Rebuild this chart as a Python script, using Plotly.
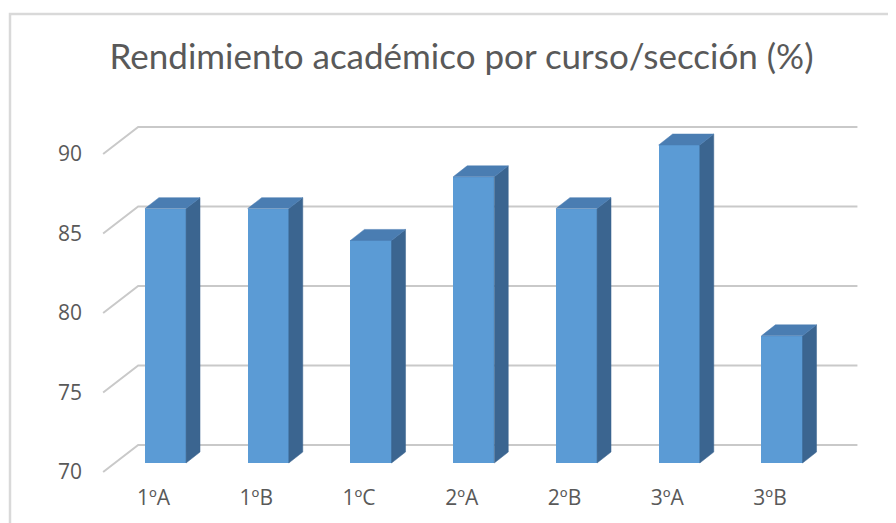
import plotly.graph_objects as go

categories = ["1ºA", "1ºB", "1ºC", "2ºA", "2ºB", "3ºA", "3ºB"]
values = [86, 86, 84, 88, 86, 90, 78]
y_ticks = [70, 75, 80, 85, 90]
title_text = "Rendimiento académico por curso/sección (%)"

# pseudo-3D geometry (in data units)
base = 70
bar_w = 0.4
ddx, ddy = 0.136, 0.69          # bar depth
dxf, dyf = -0.107, -0.57        # front wall plane offset
dxb, dyb = 0.234, 1.13          # back wall plane offset
wall_l, wall_r = -0.5, len(categories) - 0.5

FRONT = "#5B9BD5"
TOP = "#4A7DB2"
SIDE = "#3B6590"
GRID = "#C9C9C9"
TXT = "#595959"
FONT = "Lato"
TICKFONT = "Open Sans"

# page has an 8px body margin; work in page pixels and subtract it
O = 8
W, H = 896 - O, 523 - O

fig = go.Figure()

# back wall gridlines + left wall diagonals (drawn beneath the bars)
shapes = []
for v in y_ticks:
    shapes.append(dict(type="path", xref="x", yref="y", layer="below",
                       path=f"M {wall_l + dxf} {v + dyf} L {wall_l + dxb} {v + dyb} L {wall_r + dxb} {v + dyb}",
                       line=dict(color=GRID, width=2)))

# side faces and top faces
for i, v in enumerate(values):
    xr = i + bar_w / 2
    xl = i - bar_w / 2
    fig.add_trace(go.Scatter(
        x=[xr, xr + ddx, xr + ddx, xr, xr],
        y=[base, base + ddy, v + ddy, v, base],
        fill="toself", fillcolor=SIDE, mode="lines", line=dict(color=SIDE, width=0.5),
        hoverinfo="skip", showlegend=False))
    fig.add_trace(go.Scatter(
        x=[xl, xr, xr + ddx, xl + ddx, xl],
        y=[v, v, v + ddy, v + ddy, v],
        fill="toself", fillcolor=TOP, mode="lines", line=dict(color=TOP, width=0.5),
        hoverinfo="skip", showlegend=False))

# front faces
fig.add_trace(go.Bar(x=list(range(len(categories))), y=[v - base for v in values], base=base,
                     width=bar_w, marker=dict(color=FRONT, line=dict(width=0)),
                     customdata=values, hovertemplate="%{customdata}<extra></extra>",
                     showlegend=False))

px_x = 102.75
px_y = 15.9
# plot area in page pixels
pl, pr, pt, pb = 90, 870, 110, 480
L, T = pl - O, pt - O
R, B = W - (pr - O), H - (pb - O)
x0 = (pl - 165.5) / px_x
x1 = x0 + (pr - pl) / px_x
y0 = 70 - (pb - 463) / px_y
y1 = y0 + (pb - pt) / px_y

pw = pr - pl
ph = pb - pt
bx = (10 - pl) / pw
by = (pb - 14) / ph
shapes.append(dict(type="path", xref="paper", yref="paper", layer="below",
                   path=f"M {bx} -0.3 L {bx} {by} L 1.3 {by}",
                   line=dict(color="#D9D9D9", width=2.5)))

fig.update_layout(
    template="none",
    width=W, height=H,
    margin=dict(l=L, r=R, t=T, b=B, autoexpand=False),
    paper_bgcolor="white", plot_bgcolor="white",
    font=dict(family=FONT, color=TXT),
    title=dict(text=title_text, x=(461.5 - O) / W, xanchor="center", xref="container",
               y=1 - (57 - O) / H, yanchor="middle", yref="container",
               font=dict(size=35, color=TXT, family=FONT)),
    xaxis=dict(range=[x0, x1], showgrid=False, zeroline=False, showline=False, automargin=False,
               tickvals=[i + dxf - 0.01 for i in range(len(categories))], ticktext=categories,
               tickfont=dict(size=21, color=TXT, family=TICKFONT), ticks="", ticklabelstandoff=3),
    yaxis=dict(range=[y0, y1], showgrid=False, zeroline=False, showline=False, automargin=False,
               tickvals=[v + dyf for v in y_ticks], ticktext=[str(v) for v in y_ticks],
               tickfont=dict(size=21, color=TXT, family=TICKFONT), ticks="", ticklabelstandoff=7),
    shapes=shapes,
    bargap=0,
)

fig.write_html("out.html")
